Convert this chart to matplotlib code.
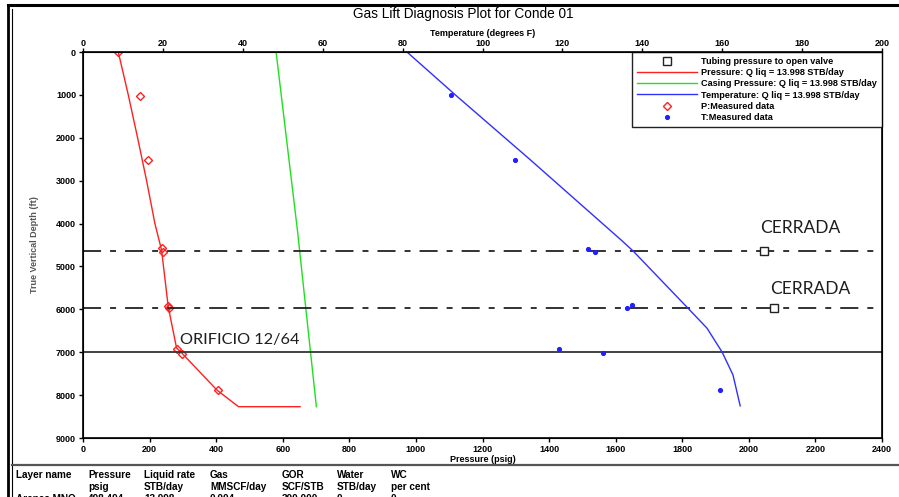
import numpy as np
import matplotlib.pyplot as plt
from matplotlib.lines import Line2D

plt.rcParams['font.family'] = ['Liberation Sans', 'DejaVu Sans']

# model curves (depth ft, pressure psig / temperature F)
p_depth = [0, 1000, 2000, 3000, 4000, 4620, 5940, 6900, 7020, 7880, 8270, 8270]
p_press = [106, 136, 164, 191, 216, 236, 256, 281, 297, 402, 467, 652]

c_depth = [0, 4150, 8270]
c_press = [580, 644, 701]

t_depth = [0, 1000, 2500, 4400, 4640, 5970, 6440, 7000, 7530, 8250]
t_temp = [81.1, 93.2, 111.8, 134.9, 137.7, 151.4, 156.2, 160.0, 162.7, 164.5]

# measured data
mp_depth = [0, 1020, 2520, 4580, 4660, 5920, 5980, 6930, 7030, 7880]
mp_press = [106, 171, 194, 236, 241, 256, 259, 283, 298, 405]

mt_depth = [1000, 2520, 4590, 4660, 5900, 5980, 6930, 7010, 7880]
mt_temp = [92.1, 108.1, 126.4, 128.1, 137.3, 136.1, 119.1, 130.2, 159.4]

# valves
valve_depth = [4640, 5975]
valve_press = [2047, 2077]
orifice_depth = 7000

table_head = ['Layer name', 'Pressure', 'Liquid rate', 'Gas', 'GOR', 'Water', 'WC']
table_units = ['', 'psig', 'STB/day', 'MMSCF/day', 'SCF/STB', 'STB/day', 'per cent']
table_row = ['Arenas MNO', '498.494', '13.998', '0.004', '300.000', '0', '0']
table_x = [16, 88, 144, 210, 282, 337, 391]

W, H = 899, 497
fig = plt.figure(figsize=(W / 100, H / 100), dpi=100)
ax = fig.add_axes([83 / W, 1 - 438 / H, (882 - 83) / W, (438 - 52) / H])

ax.plot(p_press, p_depth, color='#ff2020', lw=1)
ax.plot(c_press, c_depth, color='#20e020', lw=1)
ax.plot(mp_press, mp_depth, ls='none', marker='D', ms=4.5, mfc='none',
        mec='#ff2020', mew=1)
ax.plot(valve_press, valve_depth, ls='none', marker='s', ms=5.5, mfc='white',
        mec='#222222', mew=1, zorder=5)

for d in valve_depth:
    ax.axhline(d, color='#222222', lw=1.3, dashes=(10, 5, 3.3, 5))
ax.axhline(orifice_depth, color='#333333', lw=1.3)

ax.set_xlim(0, 2400)
ax.set_ylim(9000, 0)
ax.set_xticks(np.arange(0, 2401, 200))
ax.set_yticks(np.arange(0, 9001, 1000))
ax.tick_params(length=3, width=1, labelsize=6.5, pad=2)
for lab in ax.get_xticklabels() + ax.get_yticklabels():
    lab.set_fontweight('bold')
for s in ax.spines.values():
    s.set_linewidth(1.2)
ax.set_xlabel('Pressure (psig)', fontsize=6.5, fontweight='bold', labelpad=1)
ax.xaxis.set_label_coords(0.5, -0.045)
ax.set_ylabel('True Vertical Depth (ft)', fontsize=6.5, fontweight='bold',
              color='#555555', labelpad=12)

ax2 = ax.twiny()
ax2.plot(t_temp, t_depth, color='#3030ff', lw=1)
ax2.plot(mt_temp, mt_depth, ls='none', marker='o', ms=2.7, color='#2020ff')
ax2.set_xlim(0, 200)
ax2.set_xticks(np.arange(0, 201, 20))
ax2.tick_params(length=3, width=1, labelsize=6.5, pad=0)
for lab in ax2.get_xticklabels():
    lab.set_fontweight('bold')
ax2.set_xlabel('Temperature (degrees F)', fontsize=6.5, fontweight='bold', labelpad=2)

ann = dict(color='#1e1e1e', family=['Lato', 'DejaVu Sans'],
           ha='center', va='center')
ax.text(2154, 4100, 'CERRADA', fontsize=12.5, **ann)
ax.text(2184, 5527, 'CERRADA', fontsize=12.5, **ann)
ax.text(472, 6716, 'ORIFICIO 12/64', fontsize=11.7, **ann)

handles = [
    Line2D([], [], ls='none', marker='s', ms=6, mfc='white', mec='#222222', mew=1),
    Line2D([], [], color='#ff2020', lw=1),
    Line2D([], [], color='#20e020', lw=1),
    Line2D([], [], color='#3030ff', lw=1),
    Line2D([], [], ls='none', marker='D', ms=4.5, mfc='none', mec='#ff2020', mew=1),
    Line2D([], [], ls='none', marker='o', ms=2.7, color='#2020ff'),
]
labels = ['Tubing pressure to open valve',
          'Pressure: Q liq = 13.998 STB/day',
          'Casing Pressure: Q liq = 13.998 STB/day',
          'Temperature: Q liq = 13.998 STB/day',
          'P:Measured data',
          'T:Measured data']
leg = ax.legend(handles, labels, loc='upper right', borderaxespad=0,
                fancybox=False, edgecolor='#222222', framealpha=1,
                prop=dict(size=6.6, weight='bold'), handlelength=6.5,
                handletextpad=0.5, labelspacing=0.24, borderpad=0.55)
leg.get_frame().set_linewidth(1)

fig.text(463 / W, 1 - 14 / H, 'Gas Lift Diagnosis Plot for Conde 01',
         fontsize=9.8, ha='center', va='center')

# frame lines
fig.add_artist(Line2D([8 / W, 1], [1 - 5 / H, 1 - 5 / H], color='black', lw=2.2))
fig.add_artist(Line2D([8 / W, 8 / W], [0, 1 - 5 / H], color='black', lw=2))
fig.add_artist(Line2D([12 / W, 12 / W], [0, 1 - 9 / H], color='black', lw=0.8))
fig.add_artist(Line2D([12 / W, 1], [1 - 465 / H, 1 - 465 / H], color='#555555', lw=1.6))

for x, a, b, c in zip(table_x, table_head, table_units, table_row):
    fig.text(x / W, 1 - 475 / H, a, fontsize=7.2, fontweight='bold', va='center')
    fig.text(x / W, 1 - 486.5 / H, b, fontsize=7.2, fontweight='bold', va='center')
    fig.text(x / W, 1 - 498.5 / H, c, fontsize=7.2, fontweight='bold', va='center')

fig.savefig('out.png', dpi=100)
